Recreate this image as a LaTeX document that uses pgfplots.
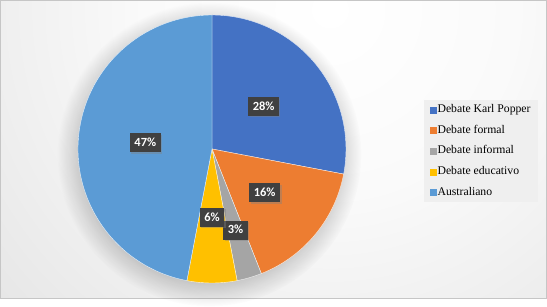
\documentclass[border=0pt]{standalone}
\usepackage{pgfplots}
\pgfplotsset{compat=1.18}
\usepackage{pgfplotstable}
\usepackage{fontspec}
\setmainfont{Liberation Serif}
\newfontfamily\lblfont{Carlito}
\usetikzlibrary{fadings,shadows}

\definecolor{pie0}{HTML}{4472C4}
\definecolor{pie1}{HTML}{ED7D31}
\definecolor{pie2}{HTML}{A5A5A5}
\definecolor{pie3}{HTML}{FFC000}
\definecolor{pie4}{HTML}{5B9BD5}
\definecolor{bggray}{HTML}{CDCDCD}
\definecolor{lblbg}{HTML}{404040}
\definecolor{legbg}{HTML}{EFEFEF}

\pgfdeclareradialshading{bgshade}{\pgfpoint{0bp}{0bp}}{color(0bp)=(white); color(6bp)=(white!98!black); color(25bp)=(bggray); color(50bp)=(bggray)}

% value (%), label radius (fraction of pie radius)
\pgfplotstableread{
pct lr
28 0.50
16 0.51
3  0.63
6  0.51
47 0.50
}\piedata

\begin{document}
\begin{tikzpicture}
\begin{axis}[
  hide axis,
  x=134bp, y=134bp,
  xmin=-1.58209, xmax=2.5,
  ymin=-1.11940, ymax=1.11194,
  clip=false,
  legend style={
    at={(0.7751,0.6656)}, anchor=north west,
    fill=legbg, draw=none,
    inner xsep=6bp, inner ysep=4.5bp,
    row sep=10.1bp,
    font=\fontsize{11.75}{12}\selectfont,
    nodes={inner xsep=1bp, inner ysep=0bp, text height=8bp, text depth=2.5bp},
  },
  legend cell align=left,
]
% background
\pgfplotsextra{
  \fill[bggray] (axis cs:-1.58209,-1.11940) rectangle (axis cs:2.5,1.11194);
  \begin{scope}
    \clip (axis cs:-1.58209,-1.11940) rectangle (axis cs:2.5,1.11194);
    \shade[shading=bgshade] (axis cs:0.88,1.04) circle[radius=780bp];
  \end{scope}
  \draw[gray!45, line width=1bp] ([shift={(0.5bp,0.5bp)}]axis cs:-1.58209,-1.11940) rectangle ([shift={(-0.5bp,-0.5bp)}]axis cs:2.5,1.11194);
  % pie shadow
  \fill[black, opacity=0.22, path fading=circle with fuzzy edge 20 percent] (axis cs:-0.02,-0.04) circle[radius=152bp];
}
% slices
\pgfplotsextra{
  \gdef\cum{0}
  \pgfplotstablegetrowsof{\piedata}
  \pgfmathtruncatemacro\nrows{\pgfplotsretval-1}
  \foreach \i in {0,...,\nrows}{
    \pgfplotstablegetelem{\i}{pct}\of\piedata \let\v\pgfplotsretval
    \pgfmathsetmacro\a{90-3.6*\cum}
    \pgfmathsetmacro\b{90-3.6*(\cum+\v)}
    \fill[pie\i, draw=white!85!pie\i, line width=0.4bp] (axis cs:0,0) -- (axis cs:{cos(\a)},{sin(\a)}) arc[start angle=\a, end angle=\b, radius=134bp] -- cycle;
    \pgfmathsetmacro\newcum{\cum+\v}\global\let\cum\newcum
  }
}
% labels
\pgfplotsextra{
  \gdef\cum{0}
  \pgfplotstablegetrowsof{\piedata}
  \pgfmathtruncatemacro\nrows{\pgfplotsretval-1}
  \foreach \i in {0,...,\nrows}{
    \pgfplotstablegetelem{\i}{pct}\of\piedata \let\v\pgfplotsretval
    \pgfplotstablegetelem{\i}{lr}\of\piedata \let\lr\pgfplotsretval
    \pgfmathsetmacro\m{90-3.6*(\cum+\v/2)}
    \node[fill=lblbg, text=white, font=\lblfont\bfseries\fontsize{12.5}{12.5}\selectfont,
      inner xsep=4.5bp, inner ysep=0bp, minimum height=19bp, text height=8.8bp, text depth=1bp,
      drop shadow={shadow xshift=1.5bp, shadow yshift=-1.5bp, opacity=0.4}]
      at (axis cs:{\lr*cos(\m)},{\lr*sin(\m)}) {\v\%};
    \pgfmathsetmacro\newcum{\cum+\v}\global\let\cum\newcum
  }
}
\addlegendimage{legend image code/.code={\fill[pie0] (0bp,-3bp) rectangle (6bp,3bp);}}
\addlegendentry{Debate Karl Popper}
\addlegendimage{legend image code/.code={\fill[pie1] (0bp,-3bp) rectangle (6bp,3bp);}}
\addlegendentry{Debate formal}
\addlegendimage{legend image code/.code={\fill[pie2] (0bp,-3bp) rectangle (6bp,3bp);}}
\addlegendentry{Debate informal}
\addlegendimage{legend image code/.code={\fill[pie3] (0bp,-3bp) rectangle (6bp,3bp);}}
\addlegendentry{Debate educativo}
\addlegendimage{legend image code/.code={\fill[pie4] (0bp,-3bp) rectangle (6bp,3bp);}}
\addlegendentry{Australiano}
\end{axis}
\end{tikzpicture}
\end{document}
